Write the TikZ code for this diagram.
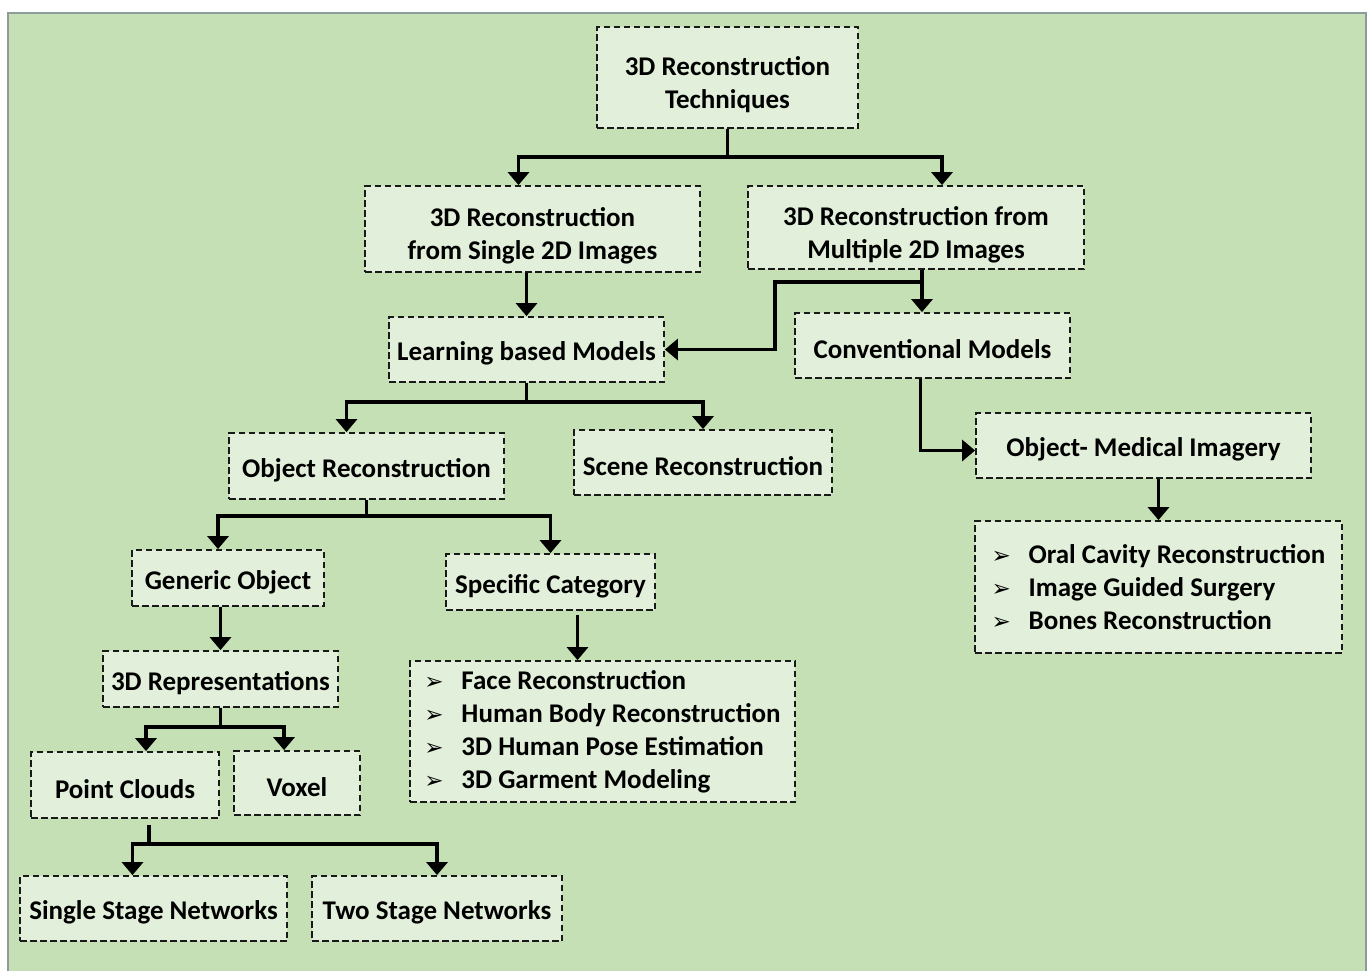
\documentclass[tikz,border=0pt]{standalone}
\usepackage{fontspec}
\setmainfont{Carlito}
\newfontfamily\symfont{DejaVu Sans}
\usetikzlibrary{arrows.meta, calc}
\definecolor{bggreen}{HTML}{C5E0B4}
\definecolor{boxgreen}{HTML}{E2EFDA}
\definecolor{framegray}{HTML}{8C9C9C}

\begin{document}
\begin{tikzpicture}[x=1pt, y=-1pt,
	box/.style={draw=black!90, line width=1.8pt, dash pattern=on 6.5pt off 3.5pt, fill=boxgreen,
		inner sep=0pt, align=center, font=\bfseries\fontsize{27}{33}\selectfont,
		execute at begin node={\rule{0pt}{27pt}}},
	list/.style={align=left},
	link/.style={line width=3.2pt},
	arr/.style={link, -{Triangle[width=21pt,length=13pt]}}]
	\def\bx[#1]#2(#3,#4)(#5,#6)#7{\node[box, #1, minimum width=#5-#3, minimum height=#6-#4] (#2) at ({(#3+#5)/2},{(#4+#6)/2}) {#7};}
	\def\itm#1{\makebox[37pt][l]{\symfont\fontsize{23}{23}\selectfont ➢}#1}
	\def\up{\rule{0pt}{33pt}}
	\useasboundingbox (0,0) rectangle (1368,970);
	\draw[framegray, line width=2pt, fill=bggreen] (8,13) rectangle (1366,990);

	\bx[]{tech}(597,27)(858,128){\up 3D Reconstruction\\Techniques}
	\bx[]{single}(365,186)(700,272){\up 3D Reconstruction\\from Single 2D Images}
	\bx[]{multi}(748,186)(1084,269){\up 3D Reconstruction from\\Multiple 2D Images}
	\bx[]{learn}(389,317)(664,382){Learning based Models}
	\bx[]{conv}(795,313)(1070,378){Conventional Models}
	\bx[]{objr}(229,433)(504,499){Object Reconstruction}
	\bx[]{scene}(574,430)(832,495){Scene Reconstruction}
	\bx[]{med}(976,413)(1311,478){Object- Medical Imagery}
	\bx[list]{medlist}(975,521)(1342,653){\itm{Oral Cavity Reconstruction}\\\itm{Image Guided Surgery}\\\itm{Bones Reconstruction}}
	\bx[]{gen}(132,550)(324,606){Generic Object}
	\bx[]{spec}(446,554)(655,610){Specific Category}
	\bx[list]{speclist}(410,661)(795,802){\itm{Face Reconstruction}\\\itm{Human Body Reconstruction}\\\itm{3D Human Pose Estimation}\\\itm{3D Garment Modeling}}
	\bx[]{rep}(103,651)(338,707){3D Representations}
	\bx[]{pc}(31,752)(219,818){Point Clouds}
	\bx[]{vox}(234,751)(360,815){Voxel}
	\bx[]{ssn}(20,876)(287,941){Single Stage Networks}
	\bx[]{tsn}(312,876)(562,941){Two Stage Networks}

	\draw[link] (tech.south) -- ++(0,28) coordinate (t1);
	\draw[arr] (t1) -| ([xshift=-14pt]single.north);
	\draw[arr] (t1) -| ([xshift=26pt]multi.north);
	\draw[arr] (learn.north |- single.south) -- (learn.north);
	\draw[link] ([xshift=6pt]multi.south) -- ++(0,12) coordinate (m1);
	\draw[arr] (m1) -- (m1 |- conv.north);
	\draw[arr] (m1) -- ++(-147,0) |- (learn.east);
	\draw[link] (learn.south) -- ++(0,19) coordinate (l1);
	\draw[arr] (l1) -| ([xshift=-20pt]objr.north);
	\draw[arr] (l1) -| (scene.north);
	\draw[arr] ([xshift=-12pt]conv.south) |- ([yshift=-5pt]med.west);
	\draw[arr] (medlist.north |- med.south) -- (medlist.north);
	\draw[link] (objr.south) -- ++(0,16) coordinate (o1);
	\draw[arr] (o1) -| ([xshift=-10pt]gen.north);
	\draw[arr] (o1) -| (spec.north);
	\draw[arr] (rep.north |- gen.south) -- (rep.north);
	\draw[arr] ([xshift=27pt,yshift=-4pt]spec.south) -- ([xshift=27pt]spec.south |- speclist.north);
	\draw[link] (rep.south) -- ++(0,19) coordinate (r1);
	\draw[arr] (r1) -| ([xshift=21pt]pc.north);
	\draw[arr] (r1) -| ([xshift=-13pt]vox.north);
	\draw[link] ([xshift=24pt,yshift=-6pt]pc.south) -- ++(0,19) coordinate (p1);
	\draw[arr] (p1) -| ([xshift=-21pt]ssn.north);
	\draw[arr] (p1) -| (tsn.north);
\end{tikzpicture}
\end{document}
